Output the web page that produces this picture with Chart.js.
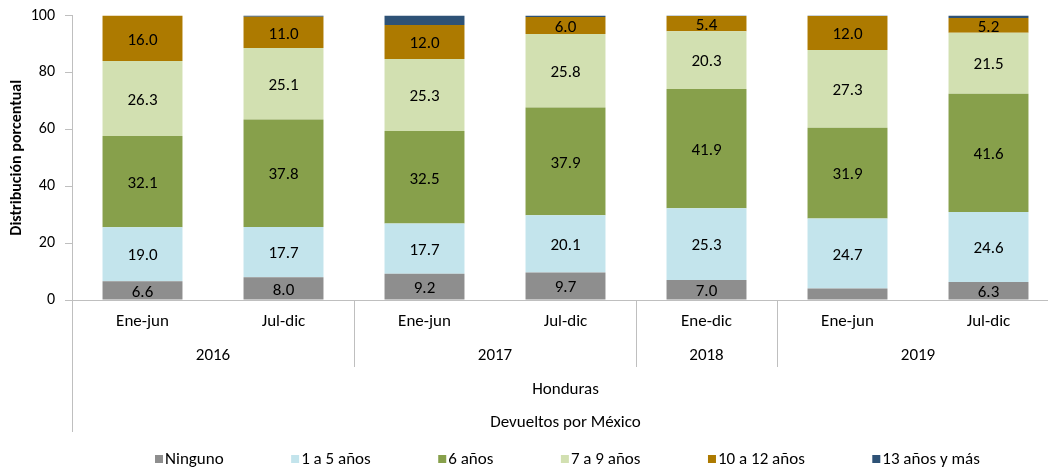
<!DOCTYPE html>
<html>
<head>
<meta charset="utf-8">
<script src="https://cdn.jsdelivr.net/npm/chart.js@4/dist/chart.umd.min.js"></script>
<style>
  html, body { margin: 0; padding: 0; background: #fff; overflow: hidden; }
  #wrap { position: relative; width: 1060px; height: 472px; margin-top: -4px; }
</style>
</head>
<body>
<div id="wrap"><canvas id="chart"></canvas></div>
<script>
// Distribución porcentual por años de escolaridad - Honduras, devueltos por México

const periods = ['Ene-jun', 'Jul-dic', 'Ene-jun', 'Jul-dic', 'Ene-dic', 'Ene-jun', 'Jul-dic'];
const years = ['2016', '2016', '2017', '2017', '2018', '2019', '2019'];
const countryLabel = 'Honduras';
const originLabel = 'Devueltos por México';
const yTicks = [0, 20, 40, 60, 80, 100];

const seriesNames = ['Ninguno', '1 a 5 años', '6 años', '7 a 9 años', '10 a 12 años', '13 años y más'];
const ninguno = [6.6, 8.0, 9.2, 9.7, 7.0, 4.0, 6.3];
const anios1a5 = [19.0, 17.7, 17.7, 20.1, 25.3, 24.7, 24.6];
const anios6 = [32.1, 37.8, 32.5, 37.9, 41.9, 31.9, 41.6];
const anios7a9 = [26.3, 25.1, 25.3, 25.8, 20.3, 27.3, 21.5];
const anios10a12 = [16.0, 11.0, 12.0, 6.0, 5.4, 12.0, 5.2];
const anios13mas = [0.0, 0.4, 3.3, 0.5, 0.1, 0.1, 0.8];

const colors = ['#8e8e8e', '#c3e4ec', '#87a04b', '#d2e0b1', '#ad7a00', '#2e5276'];
const FONT = "Carlito, 'Open Sans', sans-serif";
const AXIS_COLOR = '#bfbfbf';

const seriesData = [ninguno, anios1a5, anios6, anios7a9, anios10a12, anios13mas];

// value labels in the middle of each segment (small ones and the last series are skipped)
const barLabels = {
  id: 'barLabels',
  afterDatasetsDraw(chart) {
    const ctx = chart.ctx;
    ctx.save();
    ctx.font = '17px ' + FONT;
    ctx.fillStyle = '#000';
    ctx.textAlign = 'center';
    ctx.textBaseline = 'middle';
    chart.data.datasets.forEach((ds, di) => {
      if (di === 5) return;
      chart.getDatasetMeta(di).data.forEach((bar, i) => {
        const v = ds.data[i];
        if (v < 5) return;
        ctx.fillText(v.toFixed(1), bar.x, (bar.y + bar.base) / 2 + 2);
      });
    });
    ctx.restore();
  }
};

// multi-level category axis + legend
const groupAxis = {
  id: 'groupAxis',
  afterDraw(chart) {
    const ctx = chart.ctx;
    const area = chart.chartArea;
    const x = chart.scales.x;
    const step = (area.right - area.left) / periods.length;
    const base = area.bottom;

    ctx.save();
    ctx.strokeStyle = AXIS_COLOR;
    ctx.lineWidth = 1;

    // outer lines
    [area.left, area.right].forEach(px => {
      ctx.beginPath();
      ctx.moveTo(Math.round(px) + 0.5, base);
      ctx.lineTo(Math.round(px) + 0.5, base + 132);
      ctx.stroke();
    });

    // year groups
    ctx.font = '17px ' + FONT;
    ctx.fillStyle = '#000';
    ctx.textAlign = 'center';
    ctx.textBaseline = 'middle';
    let start = 0;
    for (let i = 1; i <= years.length; i++) {
      if (i === years.length || years[i] !== years[start]) {
        const x0 = x.getPixelForValue(start) - step / 2;
        const x1 = x.getPixelForValue(i - 1) + step / 2;
        ctx.fillText(years[start], (x0 + x1) / 2, base + 56);
        if (i < years.length) {
          ctx.beginPath();
          ctx.moveTo(Math.round(x1) + 0.5, base);
          ctx.lineTo(Math.round(x1) + 0.5, base + 67);
          ctx.stroke();
        }
        start = i;
      }
    }

    const mid = (area.left + area.right) / 2;
    ctx.fillText(countryLabel, mid, base + 90);
    ctx.fillText(originLabel, mid, base + 123);

    // legend
    let lx = 155;
    const ly = base + 160;
    ctx.textAlign = 'left';
    chart.data.datasets.forEach(ds => {
      ctx.fillStyle = ds.backgroundColor;
      ctx.fillRect(lx, ly - 5, 8, 8);
      ctx.fillStyle = '#000';
      ctx.fillText(ds.label, lx + 10, ly);
      lx += 10 + ctx.measureText(ds.label).width + 67.5;
    });
    ctx.restore();
  }
};

new Chart(document.getElementById('chart'), {
  type: 'bar',
  data: {
    labels: periods,
    datasets: seriesNames.map((name, i) => ({
      label: name,
      data: seriesData[i],
      backgroundColor: colors[i],
      borderWidth: 0,
      barPercentage: 0.567,
      categoryPercentage: 1.0
    }))
  },
  options: {
    responsive: true,
    maintainAspectRatio: false,
    animation: false,
    layout: { padding: { top: 11, right: 1, left: 0, bottom: 0 } },
    plugins: {
      legend: { display: false },
      tooltip: { enabled: false }
    },
    scales: {
      x: {
        stacked: true,
        grid: { display: false },
        border: { display: true, color: AXIS_COLOR },
        ticks: { color: '#000', font: { family: FONT, size: 17 }, padding: 4, maxRotation: 0 },
        afterFit: scale => { scale.height = 168; }
      },
      y: {
        stacked: true,
        min: 0,
        max: 100,
        afterBuildTicks: scale => { scale.ticks = yTicks.map(v => ({ value: v })); },
        grid: { drawOnChartArea: false, drawTicks: true, tickLength: 7, color: AXIS_COLOR },
        border: { display: true, color: AXIS_COLOR },
        ticks: { color: '#000', font: { family: FONT, size: 16 }, padding: 10 },
        title: {
          display: true,
          text: 'Distribución porcentual',
          color: '#000',
          font: { family: FONT, size: 16, weight: 'bold' },
          padding: { top: 7, bottom: 0 }
        },
        afterFit: scale => { scale.width = 72; }
      }
    }
  },
  plugins: [barLabels, groupAxis]
});
</script>
</body>
</html>
